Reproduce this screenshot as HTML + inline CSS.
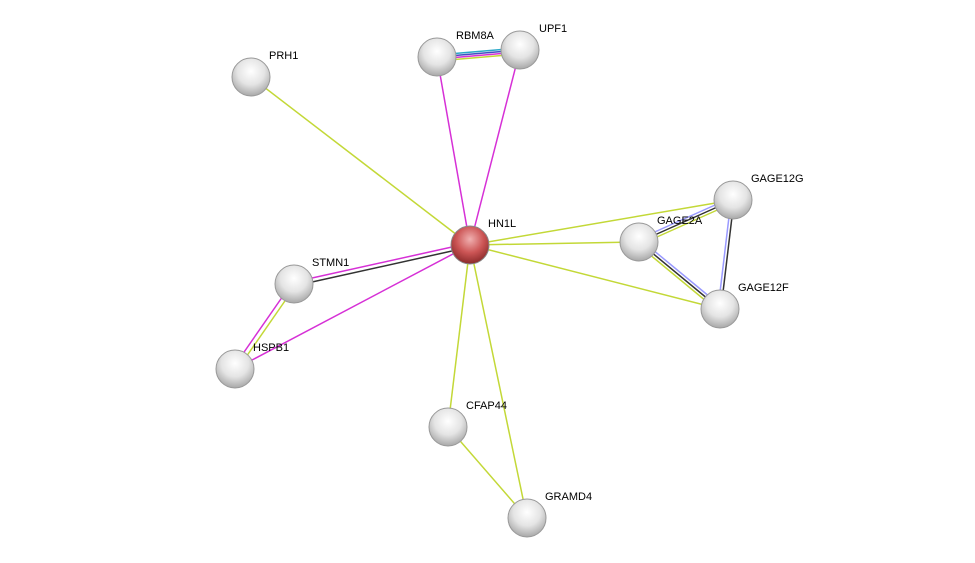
<!DOCTYPE html>
<html><head><style>body{margin:0;background:#fff}svg{display:block}text{font-family:"Liberation Sans",sans-serif;font-size:11px;fill:#000}</style></head>
<body>
<svg width="975" height="563" viewBox="0 0 975 563">
<defs>
<radialGradient id="g" cx="0.5" cy="0.35" r="0.65">
<stop offset="0" stop-color="#fff"/><stop offset="0.55" stop-color="#e4e4e4"/><stop offset="1" stop-color="#a8a8a8"/></radialGradient>
<radialGradient id="r" cx="0.5" cy="0.35" r="0.65">
<stop offset="0" stop-color="#f0b0b0"/><stop offset="0.55" stop-color="#cc5555"/><stop offset="1" stop-color="#8a2a2a"/></radialGradient>
<linearGradient id="hl" x1="0" y1="0" x2="0" y2="1"><stop offset="0" stop-color="#fff" stop-opacity="0.9"/><stop offset="1" stop-color="#fff" stop-opacity="0"/></linearGradient>
</defs>
<g stroke-width="1.5" fill="none">
<line x1="470" y1="245" x2="251" y2="77" stroke="#c3d837"/>
<line x1="470" y1="245" x2="437" y2="57" stroke="#d630d6"/>
<line x1="470" y1="245" x2="520" y2="50" stroke="#d630d6"/>
<line x1="437" y1="55" x2="520" y2="48" stroke="#2aa8c8"/>
<line x1="437" y1="57" x2="520" y2="50" stroke="#4050c0"/>
<line x1="437" y1="59" x2="520" y2="52" stroke="#d630d6"/>
<line x1="437" y1="61" x2="520" y2="54" stroke="#c3d837"/>
<line x1="470" y1="245" x2="733" y2="200" stroke="#c3d837"/>
<line x1="470" y1="245" x2="639" y2="242" stroke="#c3d837"/>
<line x1="470" y1="245" x2="720" y2="309" stroke="#c3d837"/>
<line x1="639" y1="239" x2="733" y2="197" stroke="#9999ff"/>
<line x1="639" y1="242" x2="733" y2="200" stroke="#333"/>
<line x1="639" y1="245" x2="733" y2="203" stroke="#c3d837"/>
<line x1="641" y1="240" x2="722" y2="307" stroke="#9999ff"/>
<line x1="639" y1="242" x2="720" y2="309" stroke="#333"/>
<line x1="637" y1="244" x2="718" y2="311" stroke="#c3d837"/>
<line x1="731" y1="200" x2="718" y2="309" stroke="#9999ff"/>
<line x1="734" y1="200" x2="721" y2="309" stroke="#333"/>
<line x1="470" y1="243" x2="294" y2="282" stroke="#d630d6"/>
<line x1="470" y1="247" x2="294" y2="286" stroke="#333"/>
<line x1="470" y1="245" x2="235" y2="369" stroke="#d630d6"/>
<line x1="292" y1="283" x2="233" y2="368" stroke="#d630d6"/>
<line x1="296" y1="285" x2="237" y2="370" stroke="#c3d837"/>
<line x1="470" y1="245" x2="448" y2="427" stroke="#c3d837"/>
<line x1="470" y1="245" x2="527" y2="518" stroke="#c3d837"/>
<line x1="448" y1="427" x2="527" y2="518" stroke="#c3d837"/>
</g>
<g stroke="#999" stroke-width="1">
<circle cx="251" cy="77" r="19" fill="url(#g)"/>
<circle cx="437" cy="57" r="19" fill="url(#g)"/>
<circle cx="520" cy="50" r="19" fill="url(#g)"/>
<circle cx="733" cy="200" r="19" fill="url(#g)"/>
<circle cx="639" cy="242" r="19" fill="url(#g)"/>
<circle cx="720" cy="309" r="19" fill="url(#g)"/>
<circle cx="294" cy="284" r="19" fill="url(#g)"/>
<circle cx="235" cy="369" r="19" fill="url(#g)"/>
<circle cx="448" cy="427" r="19" fill="url(#g)"/>
<circle cx="527" cy="518" r="19" fill="url(#g)"/>
<circle cx="470" cy="245" r="19" fill="url(#r)" stroke="#888"/>
</g>
<text x="269" y="59">PRH1</text>
<text x="456" y="39">RBM8A</text>
<text x="539" y="32">UPF1</text>
<text x="751" y="182">GAGE12G</text>
<text x="657" y="224">GAGE2A</text>
<text x="738" y="291">GAGE12F</text>
<text x="488" y="227">HN1L</text>
<text x="312" y="266">STMN1</text>
<text x="253" y="351">HSPB1</text>
<text x="466" y="409">CFAP44</text>
<text x="545" y="500">GRAMD4</text>
</svg>
</body></html>
